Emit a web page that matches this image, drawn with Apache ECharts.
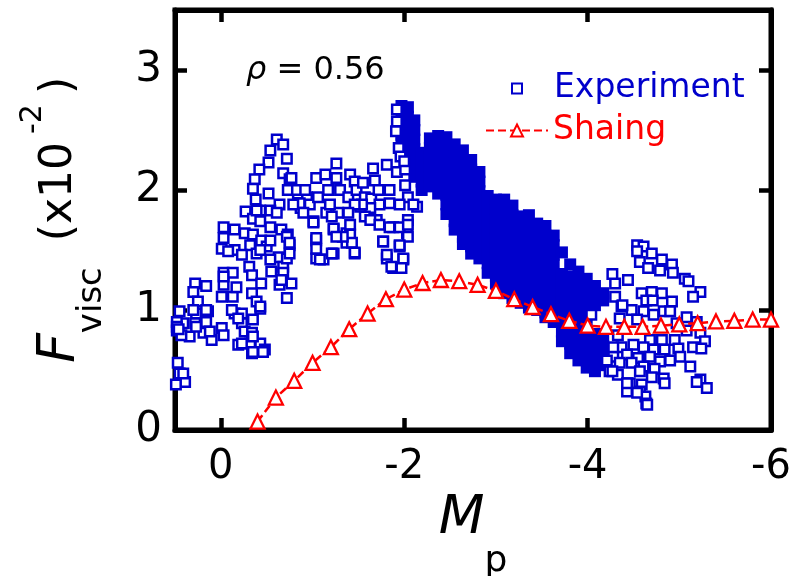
<!DOCTYPE html>
<html><head><meta charset="utf-8">
<script src="https://cdn.jsdelivr.net/npm/echarts@6/dist/echarts.min.js"></script>
<style>html,body{margin:0;padding:0;background:#fff}#c{width:803px;height:576px}</style>
</head><body><div id="c"></div>
<script>
// Experiment: open squares [Mp, Fvisc]
const expOpen = [
[-0.61,2.42],[-0.68,2.38],[-0.54,2.33],[-0.72,2.26],[-0.52,2.23],[-0.42,2.17],[-0.68,2.14],[-0.75,2.09],[-0.37,2.09],[-0.35,2.01],
[-0.52,1.97],[-0.38,1.92],[-0.73,2.00],[-0.84,1.97],[-0.94,1.94],[-0.64,1.88],[-0.87,1.85],[-0.27,1.82],[-0.43,1.83],[-0.54,1.83],
[-0.35,1.76],[-0.43,1.74],[-0.54,1.69],[-0.66,1.67],[-0.73,1.63],[-0.03,1.69],[-0.15,1.67],[-0.26,1.64],[-0.03,1.60],[-0.35,1.63],
[-0.44,1.58],[-0.15,1.50],[-0.01,1.51],[-0.32,1.54],[-0.50,1.53],[-0.63,1.44],[-0.75,1.54],[-0.08,1.49],[-0.23,1.46],[-0.39,1.47],
[-0.54,1.42],[-0.68,1.36],[-0.03,1.31],[-0.13,1.31],[-0.31,1.36],[-0.34,1.29],[-0.44,1.22],[-0.55,1.32],[-0.68,1.31],[-0.77,1.22],
[-0.64,1.21],[-0.72,1.10],[-0.03,1.21],[-0.13,1.11],[-0.34,1.14],[0.28,1.22],[0.16,1.20],[0.30,1.15],[0.25,1.07],[0.45,0.99],
[0.27,0.97],[0.14,0.99],[0.41,0.89],[0.28,0.89],[0.16,0.90],[-0.01,0.85],[0.48,0.83],[0.34,0.78],[0.19,0.81],[0.10,0.75],
[-0.03,0.79],[-0.15,0.97],[-0.23,0.97],[-0.43,1.01],[-0.39,1.07],[-0.23,0.89],[-0.35,0.92],[-0.26,0.82],[-0.34,0.81],[-0.19,0.71],
[-0.32,0.72],[-0.43,0.72],[-0.48,0.67],[-0.34,0.64],[0.47,0.56],[0.45,0.47],[0.39,0.40],[0.49,0.38],
[0.30,1.00],[0.16,1.00],[0.27,0.86],[0.12,0.82],[0.41,0.47],[-0.03,1.28],[-0.01,1.11],[-0.17,1.19],[-0.12,1.00],[-0.19,0.93],
[-0.23,0.72],[-0.35,0.65],[-0.46,0.65],[-0.35,0.78],[-0.43,1.03],[-0.43,1.50],[-0.54,1.58],[-0.72,1.43],[-0.66,1.25],[-0.39,1.83],
[-0.61,1.81],[-0.72,1.61],[0.48,0.90],[0.48,0.86],[0.43,0.79],[0.46,0.84],
[-1.04,1.58],[-1.04,1.43],[-1.12,1.42],[-1.23,1.47],[-1.23,1.67],[-1.01,1.74],[-1.37,1.64],[-1.46,1.47],[-1.37,1.56],[-1.15,1.81],
[-1.52,1.86],[-1.70,1.75],[-1.77,1.57],[-1.81,1.43],[-1.88,1.35],[-1.99,1.42],[-1.95,1.53],[-2.03,1.64],[-1.88,1.69],[-2.04,1.75],
[-2.14,1.86],
[-0.77,2.10],[-0.83,2.00],[-0.92,2.00],[-0.86,1.89],[-0.97,1.88],[-1.04,2.10],[-1.14,2.13],[-1.06,1.94],[-1.17,2.00],[-1.26,2.22],
[-1.26,2.10],[-1.41,2.13],[-1.46,2.07],[-1.30,2.00],[-1.39,1.94],[-1.48,2.00],[-1.55,2.06],[-1.57,1.94],[-1.64,1.93],[-1.66,2.18],
[-1.68,2.08],[-1.81,2.21],[-1.72,2.00],[-1.84,2.00],[-1.92,2.15],[-2.01,2.17],[-2.01,2.04],[-2.04,1.94],[-2.10,1.88],[-1.95,1.88],
[-1.84,1.89],[-1.73,1.88],[-1.63,1.85],[-1.54,1.88],[-1.46,1.88],[-1.39,1.81],[-1.28,1.81],[-1.19,1.88],[-1.21,1.78],[-1.01,1.73],
[-0.90,1.81],[-0.79,1.88],[-1.23,1.68],[-1.41,1.71],[-1.41,1.63],[-1.43,1.56],[-1.46,1.48],[-1.33,1.61],[-1.26,1.61],[-1.04,1.60],
[-1.04,1.51],[-1.08,1.42],[-1.21,1.47],[-1.57,1.78],[-1.63,1.75],[-1.73,1.71],[-1.84,1.69],[-1.95,1.69],[-2.04,1.71],[-2.04,1.61],
[-1.95,1.54],[-1.77,1.57],[-1.81,1.46],[-1.86,1.36],[-1.99,1.43],[-1.97,1.35],[-0.75,1.56],[-0.75,1.47],
[-1.92,2.57],[-1.91,2.49],[-1.94,2.35],[-1.96,2.28],[-2.00,2.24],[-1.92,2.67],
[-4.54,1.54],[-4.61,1.53],[-4.54,1.49],[-4.70,1.47],[-4.57,1.40],[-4.81,1.42],[-4.92,1.38],[-4.66,1.35],[-4.79,1.33],[-4.93,1.31],
[-5.06,1.26],[-5.10,1.24],[-5.23,1.15],[-5.15,1.11],[-4.30,1.22],[-4.44,1.25],[-4.30,1.11],[-4.59,1.14],[-4.70,1.15],[-4.81,1.14],
[-4.64,1.08],[-4.92,1.07],[-4.37,1.03],[-4.48,1.00],[-4.61,0.99],[-4.72,0.96],[-4.83,0.99],[-4.90,0.99],[-5.08,0.94],[-5.19,0.90],
[-4.04,0.96],[-4.35,0.93],[-4.54,0.92],[-4.97,0.89],[-5.08,0.83],[-5.23,0.81],[-5.28,0.74],[-4.68,0.75],[-4.81,0.75],[-4.95,0.75],
[-4.37,0.69],[-4.50,0.71],[-4.61,0.69],[-4.72,0.67],[-4.84,0.67],[-4.99,0.68],[-5.15,0.69],[-5.24,0.68],[-4.28,0.61],[-4.43,0.63],
[-4.55,0.60],[-4.68,0.61],[-4.79,0.57],[-4.90,0.58],[-5.01,0.61],[-4.35,0.56],[-4.48,0.56],[-4.61,0.53],[-4.73,0.51],[-5.12,0.53],
[-4.24,0.49],[-4.33,0.46],[-4.57,0.49],[-4.70,0.44],[-4.83,0.43],[-4.84,0.39],[-4.46,0.39],[-4.59,0.38],[-4.43,0.32],[-4.57,0.32],
[-4.63,0.28],[-4.64,0.22],[-5.23,0.42],[-5.30,0.35],[-5.19,0.40],[-4.38,1.04],[-4.71,1.08],[-4.33,0.79],[-4.28,0.69],[-4.21,0.58],
[-4.27,0.49],[-4.43,0.39],[-4.54,0.31],[-4.65,0.21],[-4.27,1.30]
];

// Experiment: densely overlapping (solid-looking) region [Mp, Fvisc]
const expDense = [
[-1.97,2.70],[-1.97,2.62],[-1.97,2.54],[-1.97,2.46],[-1.97,2.39],
[-2.04,2.69],[-2.04,2.61],[-2.04,2.53],[-2.04,2.45],[-2.04,2.37],[-2.04,2.29],[-2.04,2.21],
[-2.11,2.58],[-2.11,2.50],[-2.11,2.42],[-2.11,2.34],[-2.11,2.26],[-2.11,2.18],[-2.11,2.11],
[-2.19,2.31],[-2.19,2.23],[-2.19,2.15],[-2.19,2.07],[-2.19,2.00],
[-2.28,2.43],[-2.28,2.35],[-2.28,2.27],[-2.28,2.19],[-2.28,2.11],[-2.28,2.03],
[-2.37,2.45],[-2.37,2.37],[-2.37,2.29],[-2.37,2.21],[-2.37,2.13],[-2.37,2.05],[-2.37,1.97],
[-2.46,2.44],[-2.46,2.36],[-2.46,2.28],[-2.46,2.20],[-2.46,2.12],[-2.46,2.04],[-2.46,1.96],[-2.46,1.88],[-2.46,1.80],
[-2.55,2.38],[-2.55,2.30],[-2.55,2.22],[-2.55,2.14],[-2.55,2.06],[-2.55,1.98],[-2.55,1.90],[-2.55,1.82],[-2.55,1.74],[-2.55,1.67],
[-2.64,2.33],[-2.64,2.25],[-2.64,2.17],[-2.64,2.09],[-2.64,2.01],[-2.64,1.93],[-2.64,1.85],[-2.64,1.77],[-2.64,1.69],[-2.64,1.61],[-2.64,1.55],
[-2.73,2.25],[-2.73,2.17],[-2.73,2.09],[-2.73,2.01],[-2.73,1.93],[-2.73,1.85],[-2.73,1.77],[-2.73,1.69],[-2.73,1.61],[-2.73,1.53],[-2.73,1.47],
[-2.82,2.15],[-2.82,2.07],[-2.82,1.99],[-2.82,1.91],[-2.82,1.83],[-2.82,1.75],[-2.82,1.67],[-2.82,1.59],[-2.82,1.51],[-2.82,1.43],
[-2.91,1.95],[-2.91,1.87],[-2.91,1.79],[-2.91,1.71],[-2.91,1.63],[-2.91,1.55],[-2.91,1.47],[-2.91,1.39],[-2.91,1.31],
[-3.00,1.92],[-3.00,1.84],[-3.00,1.76],[-3.00,1.68],[-3.00,1.60],[-3.00,1.52],[-3.00,1.44],[-3.00,1.36],[-3.00,1.28],[-3.00,1.22],
[-3.09,1.92],[-3.09,1.84],[-3.09,1.76],[-3.09,1.68],[-3.09,1.60],[-3.09,1.52],[-3.09,1.44],[-3.09,1.36],[-3.09,1.28],[-3.09,1.20],[-3.09,1.14],
[-3.18,1.87],[-3.18,1.79],[-3.18,1.71],[-3.18,1.63],[-3.18,1.55],[-3.18,1.47],[-3.18,1.39],[-3.18,1.31],[-3.18,1.23],[-3.18,1.15],[-3.18,1.10],
[-3.27,1.78],[-3.27,1.70],[-3.27,1.62],[-3.27,1.54],[-3.27,1.46],[-3.27,1.38],[-3.27,1.30],[-3.27,1.22],[-3.27,1.14],[-3.27,1.06],
[-3.36,1.79],[-3.36,1.71],[-3.36,1.63],[-3.36,1.55],[-3.36,1.47],[-3.36,1.39],[-3.36,1.31],[-3.36,1.23],[-3.36,1.15],[-3.36,1.07],[-3.36,1.02],
[-3.45,1.72],[-3.45,1.64],[-3.45,1.56],[-3.45,1.48],[-3.45,1.40],[-3.45,1.32],[-3.45,1.24],[-3.45,1.16],[-3.45,1.08],[-3.45,1.00],
[-3.54,1.70],[-3.54,1.62],[-3.54,1.54],[-3.54,1.46],[-3.54,1.38],[-3.54,1.30],[-3.54,1.22],[-3.54,1.14],[-3.54,1.06],[-3.54,0.98],[-3.54,0.94],
[-3.63,1.62],[-3.63,1.54],[-3.63,1.46],[-3.63,1.38],[-3.63,1.30],[-3.63,1.22],[-3.63,1.14],[-3.63,1.06],[-3.63,0.98],[-3.63,0.90],
[-3.72,1.48],[-3.72,1.30],[-3.72,1.22],[-3.72,1.14],[-3.72,1.06],[-3.72,0.98],[-3.72,0.90],[-3.72,0.82],[-3.72,0.74],
[-3.81,1.38],[-3.81,1.28],[-3.81,1.20],[-3.81,1.12],[-3.81,1.04],[-3.81,0.96],[-3.81,0.88],[-3.81,0.80],[-3.81,0.72],[-3.81,0.64],
[-3.90,1.32],[-3.90,1.24],[-3.90,1.16],[-3.90,1.08],[-3.90,1.00],[-3.90,0.90],[-3.90,0.82],[-3.90,0.74],[-3.90,0.66],[-3.90,0.58],
[-3.99,1.26],[-3.99,1.18],[-3.99,1.10],[-3.99,1.02],[-3.99,0.94],[-3.99,0.84],[-3.99,0.76],[-3.99,0.68],[-3.99,0.60],[-3.99,0.52],
[-4.08,1.20],[-4.08,1.12],[-4.08,1.04],[-4.08,0.80],[-4.08,0.72],[-4.08,0.64],[-4.08,0.56],[-4.08,0.49],
[-4.17,1.14],[-4.17,1.08],[-4.17,0.78],[-4.17,0.70],[-4.17,0.62],[-4.17,0.54]
];

// Shaing model curve
const shaingX = [-0.4,-0.6,-0.8,-1.0,-1.2,-1.4,-1.6,-1.8,-2.0,-2.2,-2.4,-2.6,-2.8,-3.0,-3.2,-3.4,-3.6,-3.8,-4.0,-4.2,-4.4,-4.6,-4.8,-5.0,-5.2,-5.4,-5.6,-5.8,-6.0];
const shaingY = [0.07,0.27,0.41,0.56,0.69,0.84,0.97,1.09,1.17,1.225,1.25,1.24,1.21,1.16,1.09,1.025,0.965,0.91,0.87,0.86,0.86,0.86,0.87,0.88,0.89,0.905,0.91,0.92,0.92];

const BLUE = '#0000cc', RED = '#ff0000', FONT = 'DejaVu Sans';
const chart = echarts.init(document.getElementById('c'), null, {renderer: 'canvas'});
const fmtX = v => (Math.abs(v % 2) < 1e-9 ? String(v) : '');
const fmtY = v => (Math.abs(v % 1) < 1e-9 ? String(v) : '');
const frameLine = {show: true, onZero: false, lineStyle: {color: '#000', width: 5}};
const frameTick = {show: true, inside: true, length: 12, lineStyle: {color: '#000', width: 4.5}};

const expData = expDense.map(p => ({value: p, symbolSize: 12, itemStyle: {color: BLUE, borderColor: BLUE, borderWidth: 0}}))
  .concat(expOpen.map(p => ({value: p})));

chart.setOption({
  animation: false,
  backgroundColor: '#fff',
  textStyle: {fontFamily: FONT},
  grid: {left: 175, right: 32, top: 10, bottom: 146, containLabel: false, outerBoundsMode: 'none',
         show: true, borderColor: '#000', borderWidth: 5, backgroundColor: 'transparent'},
  title: {text: '{i|ρ} = 0.56', left: 246, top: 55, padding: 0,
          textStyle: {fontFamily: FONT, fontSize: 32, fontWeight: 'normal', color: '#000',
                      rich: {i: {fontFamily: FONT, fontStyle: 'italic', fontSize: 32, color: '#000'}}}},
  legend: [
    {data: [{name: 'Experiment', icon: 'rect', textStyle: {color: BLUE}}], orient: 'vertical', left: 511, top: 72, padding: 0,
     itemWidth: 10, itemHeight: 10, selectedMode: false,
     itemStyle: {color: '#fff', borderColor: BLUE, borderWidth: 2},
     textStyle: {fontFamily: FONT, fontSize: 33, color: BLUE, padding: [0, 0, 0, 27]}},
    {data: [{name: 'Shaing', textStyle: {color: RED}}], orient: 'vertical', left: 485, top: 114, padding: 0,
     itemWidth: 62, itemHeight: 15, selectedMode: false,
     textStyle: {fontFamily: FONT, fontSize: 33, color: RED}}
  ],
  xAxis: [
    {type: 'value', min: -6, max: 0.5, interval: 2, inverse: true, position: 'bottom',
     axisLine: frameLine, axisTick: frameTick, splitLine: {show: false},
     axisLabel: {formatter: fmtX, margin: 18, fontSize: 40, fontFamily: FONT, color: '#000'},
     name: '{m|M}{s|p}', nameLocation: 'middle', nameGap: 33, nameMoveOverlap: false,
     nameTextStyle: {color: '#000', fontFamily: FONT,
       rich: {m: {fontFamily: FONT, fontStyle: 'italic', fontSize: 53, lineHeight: 112, color: '#000'},
              s: {fontFamily: FONT, fontSize: 36, height: 26, verticalAlign: 'bottom', color: '#000'}}}},
    {type: 'value', min: -6, max: 0.5, interval: 2, inverse: true, position: 'top',
     axisLine: frameLine, axisTick: frameTick, splitLine: {show: false}, axisLabel: {show: false}}
  ],
  yAxis: [
    {type: 'value', min: 0, max: 3.5, interval: 1, position: 'left',
     axisLine: frameLine, axisTick: frameTick, splitLine: {show: false},
     axisLabel: {formatter: fmtY, margin: 13, fontSize: 42, fontFamily: FONT, color: '#000', padding: [0, 0, 13, 0]},
     name: '{f|F}{s|visc}{m| (x10}{u|-2}{p|)}', nameLocation: 'middle', nameRotate: 90, nameGap: 65, nameMoveOverlap: false,
     nameTextStyle: {color: '#000', fontFamily: FONT,
       rich: {f: {fontFamily: FONT, fontStyle: 'italic', fontSize: 52, lineHeight: 100, color: '#000'},
              s: {fontFamily: FONT, fontSize: 34, height: 36, verticalAlign: 'bottom', color: '#000'},
              m: {fontFamily: FONT, fontSize: 44, padding: [0, 0, 0, 12], color: '#000'},
              u: {fontFamily: FONT, fontSize: 30, height: 46, verticalAlign: 'top', padding: [0, 0, 0, 8], color: '#000'},
              p: {fontFamily: FONT, fontSize: 44, padding: [0, 0, 0, 10], color: '#000'}}}},
    {type: 'value', min: 0, max: 3.5, interval: 1, position: 'right',
     axisLine: frameLine, axisTick: frameTick, splitLine: {show: false}, axisLabel: {show: false}}
  ],
  series: [
    {name: 'Experiment', type: 'scatter', symbol: 'rect', symbolSize: 9.5, z: 2,
     itemStyle: {color: '#fff', borderColor: BLUE, borderWidth: 2.5, opacity: 1},
     emphasis: {disabled: true}, data: expData},
    {name: 'Shaing', type: 'line', symbol: 'triangle', symbolSize: 14, showAllSymbol: true, z: 3,
     itemStyle: {color: '#fff', borderColor: RED, borderWidth: 2.3},
     lineStyle: {color: RED, width: 2.5, type: [8, 4]},
     emphasis: {disabled: true},
     data: shaingX.map((x, i) => [x, shaingY[i]])}
  ]
});
</script>
</body></html>
